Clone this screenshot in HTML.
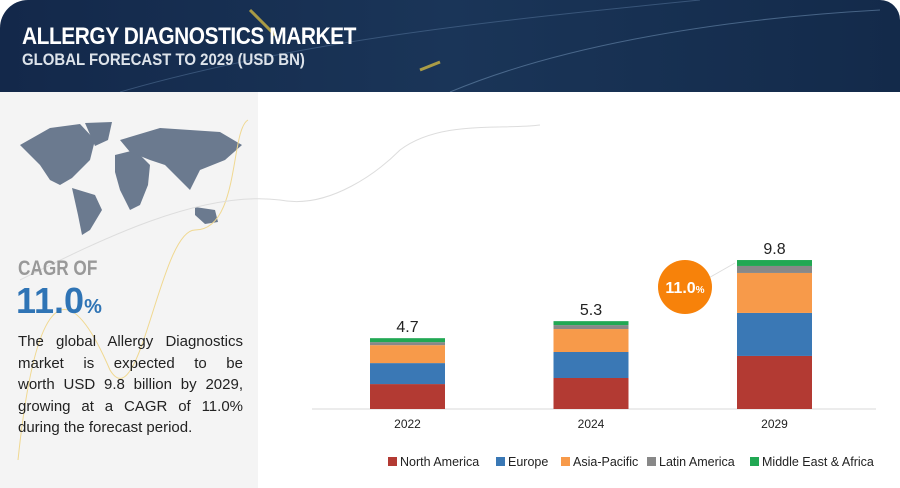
<!DOCTYPE html>
<html><head><meta charset="utf-8"><style>
body{margin:0;width:900px;height:488px;overflow:hidden;background:#fff;font-family:"Liberation Sans",sans-serif;position:relative}
.hdr{position:absolute;left:0;top:0;width:900px;height:92px;background:linear-gradient(90deg,#13284a,#1a3558 50%,#132a4a);border-top-left-radius:28px;border-top-right-radius:20px}
.t1{position:absolute;left:22px;top:23px;color:#fff;font:bold 24px "Liberation Sans",sans-serif;letter-spacing:-0.5px;transform:scaleX(0.87);transform-origin:0 0;white-space:nowrap}
.t2{position:absolute;left:22px;top:50px;color:#dde3ea;font:bold 17px "Liberation Sans",sans-serif;transform:scaleX(0.88);transform-origin:0 0;white-space:nowrap}
.left{position:absolute;left:0;top:92px;width:258px;height:396px;background:#f4f4f4}
.desc{position:absolute;left:18px;top:331px;width:225px;font-size:15px;line-height:21.5px;color:#222}
.desc div{text-align:justify;text-align-last:justify;white-space:nowrap}
.desc div.last{text-align-last:left}
</style></head><body>
<div class="hdr">
<svg width="900" height="92" style="position:absolute;left:0;top:0">
<path d="M120 92 C300 40 500 20 700 0" stroke="#5a7aa0" stroke-width="1" fill="none" opacity=".5"/>
<path d="M450 92 C550 50 700 20 880 10" stroke="#7a9cc0" stroke-width="1" fill="none" opacity=".5"/>
<path d="M250 10 L275 35" stroke="#e8c840" stroke-width="3" opacity=".7"/>
<path d="M420 70 L440 62" stroke="#e8c840" stroke-width="3" opacity=".7"/>
</svg>
<div class="t1">ALLERGY DIAGNOSTICS MARKET</div>
<div class="t2">GLOBAL FORECAST TO 2029 (USD BN)</div>
</div>
<div class="left"></div>
<svg width="900" height="488" style="position:absolute;left:0;top:0" id="chart">
<g fill="#6b7a8f">
<path d="M20 145 L50 128 L80 124 L95 140 L90 160 L72 178 L60 185 L50 180 L40 165 Z"/>
<path d="M85 123 L112 122 L108 140 L95 146 Z"/>
<path d="M72 188 L95 195 L102 210 L90 230 L82 235 L78 215 Z"/>
<path d="M115 155 L135 150 L150 165 L148 185 L140 205 L130 210 L120 190 L115 172 Z"/>
<path d="M120 140 L160 128 L220 132 L242 145 L225 160 L200 170 L190 190 L180 180 L165 165 L150 160 L130 152 Z"/>
<path d="M195 207 L215 210 L218 222 L205 224 L195 215 Z"/>
</g>
<path d="M18 460 C40 250 80 300 110 370 C140 420 160 230 195 230 C240 230 230 130 248 120" stroke="#f0d890" fill="none" stroke-width="1"/>
<path d="M20 280 C100 240 200 190 280 200 C330 210 380 170 400 150 C440 120 500 130 540 125" stroke="#ddd" fill="none" stroke-width="1"/>
<text x="18" y="275" font-weight="bold" font-size="21" fill="#999" transform="translate(18,0) scale(0.82,1) translate(-18,0)">CAGR OF</text>
<text x="16" y="313" font-weight="bold" font-size="36" fill="#2f74b5">11.0<tspan font-size="20">%</tspan></text>
<line x1="312" y1="409" x2="876" y2="409" stroke="#d9d9d9"/>
<line x1="670" y1="300" x2="735" y2="263" stroke="#ddd" stroke-width="1"/>
<circle cx="685" cy="287" r="27" fill="#f7820a"/>
<text x="685" y="293" text-anchor="middle" fill="#fff" font-weight="bold" font-size="16">11.0<tspan font-size="10">%</tspan></text>
</svg>
<div class="desc">
<div>The global Allergy Diagnostics</div>
<div>market is expected to be</div>
<div>worth USD 9.8 billion by 2029,</div>
<div>growing at a CAGR of 11.0%</div>
<div class="last">during the forecast period.</div>
</div>
<script>
const categories=["2022","2024","2029"];
const totals=["4.7","5.3","9.8"];
const seriesNames=["North America","Europe","Asia-Pacific","Latin America","Middle East & Africa"];
const northAmerica=[1.64,2.04,3.49];
const europe=[1.38,1.71,2.83];
const asiaPacific=[1.18,1.51,2.63];
const latinAmerica=[0.2,0.26,0.46];
const mea=[0.26,0.26,0.39];
const colors=["#b33a33","#3a78b5","#f79a4a","#888888","#21a853"];
const series=[northAmerica,europe,asiaPacific,latinAmerica,mea];
const svg=document.getElementById('chart');const NS="http://www.w3.org/2000/svg";
const base=409,scale=15.2;
function xPos(i){return 370+i*183.5;}
function yLen(v){return v*scale;}
categories.forEach((c,i)=>{
 let y=base;
 series.forEach((s,k)=>{
  const h=yLen(s[i]);y-=h;
  const r=document.createElementNS(NS,'rect');
  r.setAttribute('x',xPos(i));r.setAttribute('y',y);r.setAttribute('width',75);r.setAttribute('height',h);r.setAttribute('fill',colors[k]);
  
  
  svg.appendChild(r);
 });
 const t=document.createElementNS(NS,'text');
 t.setAttribute('x',xPos(i)+37.5);t.setAttribute('y',y-6);t.setAttribute('text-anchor','middle');t.setAttribute('font-size','16');t.setAttribute('fill','#222');
 t.textContent=totals[i];
 
 
 svg.appendChild(t);
 const l=document.createElementNS(NS,'text');
 l.setAttribute('x',xPos(i)+37.5);l.setAttribute('y',428);l.setAttribute('text-anchor','middle');l.setAttribute('font-size','12');l.setAttribute('fill','#222');
 l.textContent=c;
 
 
 svg.appendChild(l);
});
const legX=[388,496,561,647,750];
seriesNames.forEach((n,k)=>{
 const r=document.createElementNS(NS,'rect');
 r.setAttribute('x',legX[k]);r.setAttribute('y',457);r.setAttribute('width',9);r.setAttribute('height',9);r.setAttribute('fill',colors[k]);
 
 
 svg.appendChild(r);
 const t=document.createElementNS(NS,'text');
 t.setAttribute('x',legX[k]+12);t.setAttribute('y',466);t.setAttribute('font-size','12.5');t.setAttribute('fill','#222');
 t.textContent=n;
 
 
 svg.appendChild(t);
});
</script>
</body></html>
